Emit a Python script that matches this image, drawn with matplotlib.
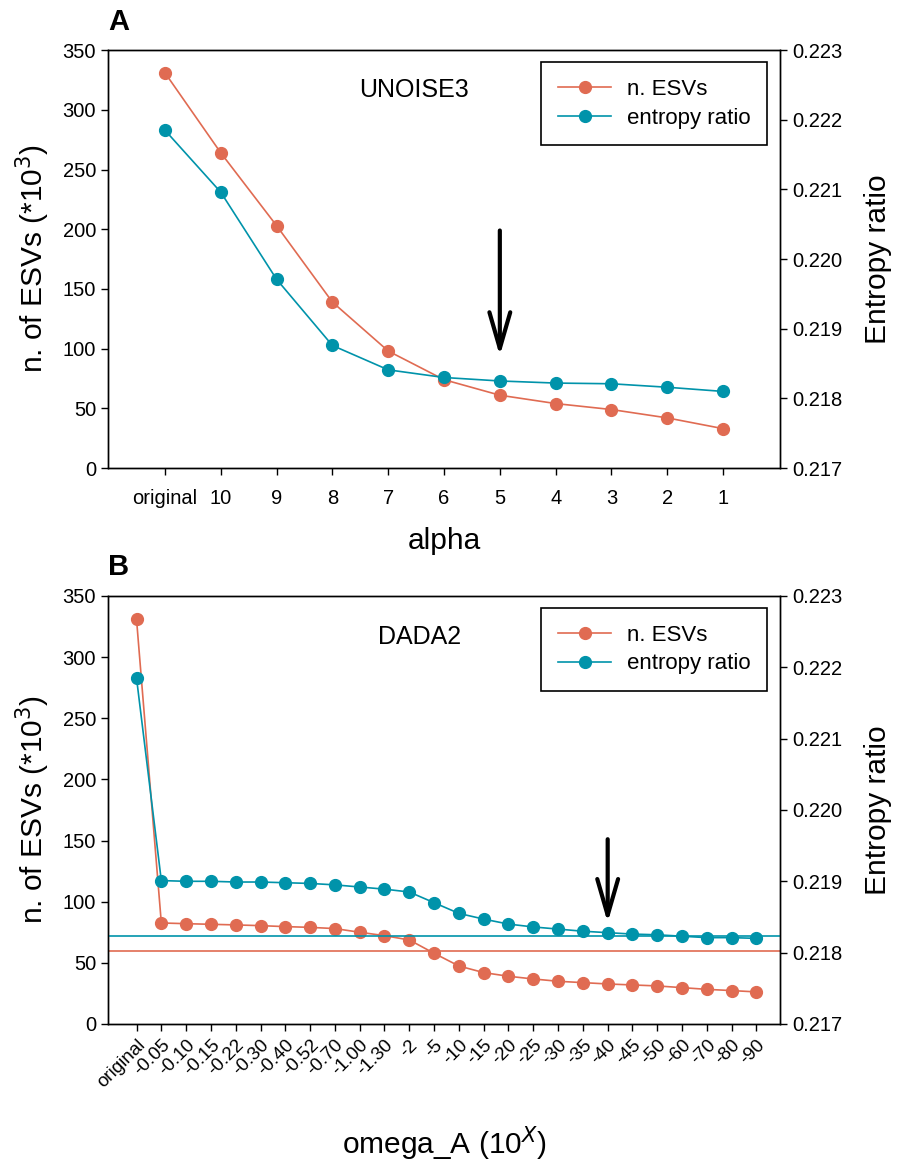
import matplotlib
matplotlib.use("Agg")
import matplotlib.pyplot as plt
from matplotlib.lines import Line2D

plt.rcParams['font.family'] = ['Liberation Sans', 'DejaVu Sans']

RED = '#E06B52'
TEAL = '#0093AA'

# Panel A: UNOISE3
alpha_labels = ['original', '10', '9', '8', '7', '6', '5', '4', '3', '2', '1']
unoise_esvs = [331, 264, 203, 139, 98, 74, 61, 54, 49, 42, 33]
unoise_entropy = [0.22185, 0.22096, 0.21971, 0.21876, 0.21841, 0.21830,
                  0.21825, 0.21822, 0.21821, 0.21816, 0.21810]

# Panel B: DADA2
omega_labels = ['original', '-0.05', '-0.10', '-0.15', '-0.22', '-0.30', '-0.40',
                '-0.52', '-0.70', '-1.00', '-1.30', '-2', '-5', '-10', '-15', '-20',
                '-25', '-30', '-35', '-40', '-45', '-50', '-60', '-70', '-80', '-90']
dada_esvs = [331, 82.6, 82.0, 81.5, 81.0, 80.4, 79.6, 79.0, 78.0, 75.0, 72.2,
             68.7, 57.8, 47.4, 42.0, 39.0, 36.8, 34.9, 33.8, 32.7, 31.9, 31.1,
             29.7, 28.3, 27.3, 26.2]
dada_entropy = [0.22185, 0.21901, 0.21900, 0.21900, 0.21899, 0.21899, 0.21898,
                0.21897, 0.21895, 0.21892, 0.21889, 0.21885, 0.21870, 0.21855,
                0.21847, 0.21840, 0.21836, 0.21833, 0.21830, 0.21828, 0.21826,
                0.21825, 0.21823, 0.21821, 0.21821, 0.21820]

# reference lines in B = UNOISE3 at alpha 5
ref_esvs = 60
ref_entropy = 0.21824

ARROW = dict(arrowstyle='->,head_length=2.6,head_width=0.75', lw=3,
             color='black', shrinkA=0, shrinkB=0)

fig = plt.figure(figsize=(9, 11.62), dpi=100)
axA = fig.add_axes([0.12, 0.5972, 0.7467, 0.3597])
axB = fig.add_axes([0.12, 0.1188, 0.7467, 0.3683])


def style_axes(ax, ax2):
    ax.set_ylim(0, 350)
    ax.set_yticks(range(0, 351, 50))
    ax2.set_ylim(0.217, 0.223)
    ax2.set_yticks([0.217 + 0.001 * i for i in range(7)])
    ax2.set_yticklabels(['%.3f' % (0.217 + 0.001 * i) for i in range(7)])
    for a in (ax, ax2):
        a.tick_params(direction='out', length=5, width=1, labelsize=14.5)
        for s in a.spines.values():
            s.set_linewidth(1)
    ax.set_ylabel('n. of ESVs (*10$^3$)', fontsize=21.5, labelpad=8)
    ax2.set_ylabel('Entropy ratio', fontsize=21.5, labelpad=16)


def add_legend(ax, top):
    handles = [Line2D([], [], color=RED, marker='o', markersize=8.5, lw=1.2),
               Line2D([], [], color=TEAL, marker='o', markersize=8.5, lw=1.2)]
    leg = ax.legend(handles, ['n. ESVs', 'entropy ratio'], loc='upper right',
                    bbox_to_anchor=(0.981, top), borderaxespad=0,
                    fontsize=16, fancybox=False, framealpha=1,
                    edgecolor='black', borderpad=0.75, handlelength=2.4,
                    handletextpad=0.7, labelspacing=0.35)
    leg.get_frame().set_linewidth(1.2)


# ---- Panel A
xA = list(range(len(alpha_labels)))
axA2 = axA.twinx()
axA.plot(xA, unoise_esvs, color=RED, marker='o', markersize=8.5, lw=1.2, zorder=3)
axA2.plot(xA, unoise_entropy, color=TEAL, marker='o', markersize=8.5, lw=1.2, zorder=3)
axA.set_xlim(-1.02, 11.02)
axA.set_xticks(xA)
axA.set_xticklabels(alpha_labels)
style_axes(axA, axA2)
axA.tick_params(axis='x', pad=10)
axA.set_xlabel('alpha', fontsize=21.5, labelpad=14)
axA.text(0.455, 0.904, 'UNOISE3', transform=axA.transAxes, fontsize=18,
         ha='center', va='center')
axA2.annotate('', xy=(6, 0.21861), xytext=(6, 0.22041), arrowprops=ARROW)
add_legend(axA2, 0.971)
fig.text(0.12, 0.981, 'A', fontsize=21, fontweight='bold', ha='left', va='center')

# ---- Panel B
xB = list(range(len(omega_labels)))
axB2 = axB.twinx()
axB.axhline(ref_esvs, color=RED, lw=1.2, zorder=2)
axB2.axhline(ref_entropy, color=TEAL, lw=1.2, zorder=2)
axB.plot(xB, dada_esvs, color=RED, marker='o', markersize=8.5, lw=1.2, zorder=3)
axB2.plot(xB, dada_entropy, color=TEAL, marker='o', markersize=8.5, lw=1.2, zorder=3)
axB.set_xlim(-1.15, 25.95)
axB.set_xticks(xB)
axB.set_xticklabels(omega_labels, rotation=45, ha='right', rotation_mode='anchor')
style_axes(axB, axB2)
axB.tick_params(axis='x', labelsize=13.5, pad=4)
axB.set_xlabel('omega_A (10$^{X}$)', fontsize=21.5, labelpad=24)
axB.text(0.464, 0.904, 'DADA2', transform=axB.transAxes, fontsize=18,
         ha='center', va='center')
axB2.annotate('', xy=(19, 0.21842), xytext=(19, 0.21959), arrowprops=ARROW)
add_legend(axB2, 0.972)
fig.text(0.12, 0.512, 'B', fontsize=21, fontweight='bold', ha='left', va='center')

fig.savefig('out.png', dpi=100)
